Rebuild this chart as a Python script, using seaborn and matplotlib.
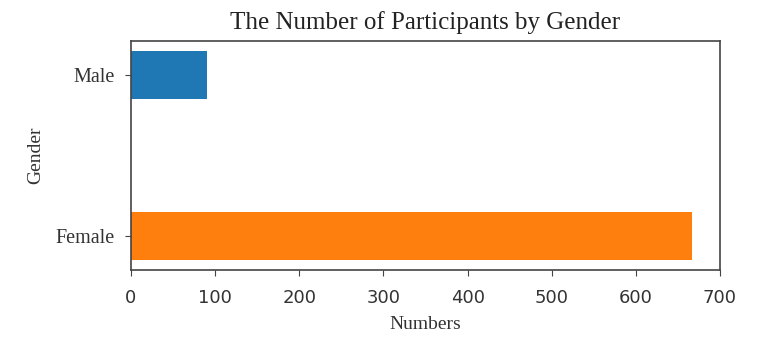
import numpy as np
import matplotlib
matplotlib.use('Agg')
import matplotlib.pyplot as plt
import seaborn as sns

# data
genders = ["Male", "Female"]
counts = [90, 667]
bar_colors = ["#1f77b4", "#ff7f0e"]
x_ticks = [0, 100, 200, 300, 400, 500, 600, 700]

fig = plt.figure(figsize=(7.77, 3.39), dpi=100)
ax = fig.add_axes([131/777, 1-270/339, (720-131)/777, (270-41)/339])

sns.barplot(x=counts, y=genders, hue=genders, palette=bar_colors,
            orient='h', width=0.3, legend=False, ax=ax, saturation=1)

ax.set_xlim(0, 700)
ax.set_ylim(1.21, -0.21)
ax.set_xticks(x_ticks)
ax.set_xticklabels([str(t) for t in x_ticks], fontsize=13, family='DejaVu Sans', color='#333333')
ax.set_yticks([0, 1])
ax.set_yticklabels(genders, fontsize=14.5, family='Liberation Serif', color='#333333')
ax.tick_params(axis='x', pad=10, length=4, color='#444444')
ax.tick_params(axis='y', pad=8, length=4, color='#444444')

ax.set_title("The Number of Participants by Gender", family='Liberation Serif',
             fontsize=18, color='#222222', pad=9)
ax.set_xlabel("Numbers", family='Liberation Serif', fontsize=14, color='#333333', labelpad=6)
ax.set_ylabel("Gender", family='Liberation Serif', fontsize=14, color='#333333', labelpad=8)

for s in ax.spines.values():
    s.set_visible(True)
    s.set_color('#444444')
    s.set_linewidth(1.2)

fig.savefig("out.png", dpi=100)
